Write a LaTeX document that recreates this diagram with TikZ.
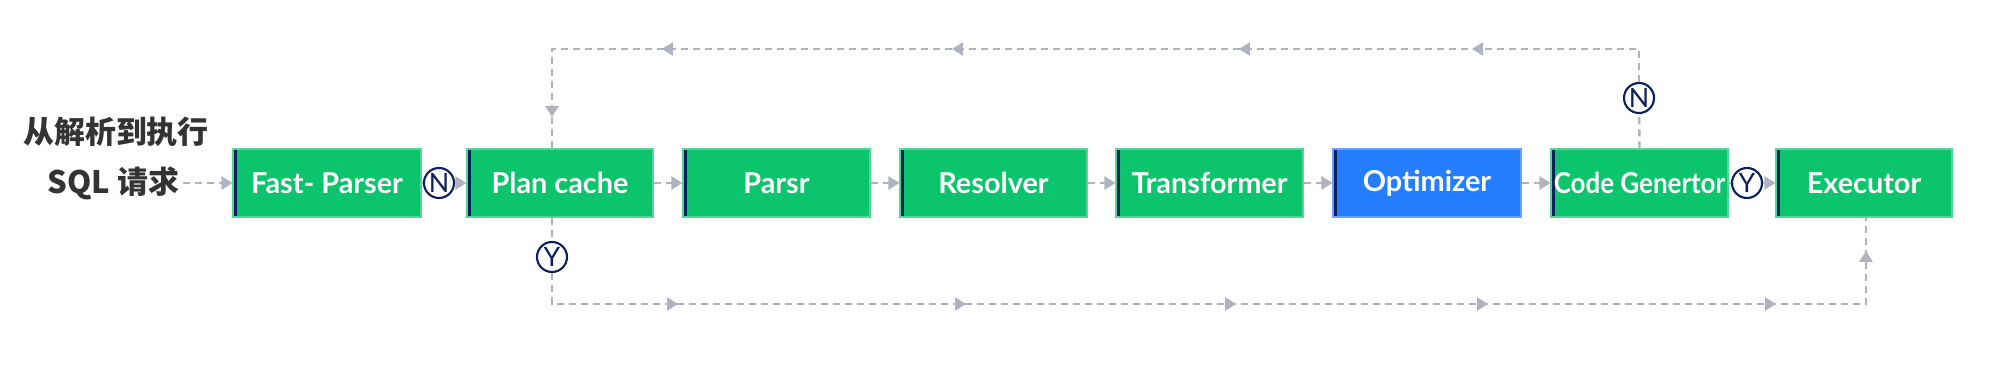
\documentclass[tikz,border=0pt]{standalone}
\usepackage{fontspec}
\setmainfont{Lato}
\newfontfamily\cjk{Noto Sans CJK SC}
\usetikzlibrary{arrows.meta, decorations.markings, calc}
\definecolor{SqGreen}{RGB}{11,196,108}
\definecolor{SqBlue}{RGB}{36,126,255}
\definecolor{SqNavy}{RGB}{10,31,92}
\definecolor{SqGray}{RGB}{176,179,190}
\definecolor{SqText}{RGB}{51,51,51}

\begin{document}
\begin{tikzpicture}[
    stage/.style={rectangle, fill=#1, draw=#1!70!white, line width=0.3pt,
                  minimum height=0.68cm, inner sep=0pt, text=white,
                  font=\fontsize{8.2}{9.6}\selectfont\bfseries,
                  path picture={\fill[SqNavy] (path picture bounding box.north west)
                    rectangle ([xshift=0.04cm]path picture bounding box.south west);}},
    flag/.style={circle, draw=SqNavy, line width=0.6pt, fill=white,
                 minimum size=0.3cm, inner sep=0pt, text=SqNavy,
                 font=\fontsize{7.6}{8}\selectfont},
    link/.style={SqGray, line width=0.7pt, dash pattern=on 0.07cm off 0.05cm},
    tip/.style={-{Triangle[length=0.11cm, width=0.13cm]}}
  ]
  \useasboundingbox (0,0) rectangle (20,3.7);

  % Request label
  \node[font=\cjk\fontsize{8.8}{10}\selectfont\bfseries, SqText]
        (title) at (1.16, 2.38) {从解析到执行};
  \node[font=\cjk\fontsize{8.8}{10}\selectfont\bfseries, SqText, inner sep=1pt]
        (sql) at (1.135, 1.87) {SQL 请求};

  % Stages
  \foreach \name/\x/\w/\col/\txt in {fast/3.27/1.88/SqGreen/{Fast- Parser},
      plan/5.60/1.86/SqGreen/{Plan cache}, parsr/7.765/1.87/SqGreen/{Parsr},
      resolver/9.935/1.87/SqGreen/{Resolver}, trans/12.095/1.87/SqGreen/{Transformer},
      opt/14.27/1.88/SqBlue/{Optimizer},
      codegen/16.395/1.77/SqGreen/{\scalebox{0.9}[1]{Code Genertor}},
      exec/18.64/1.76/SqGreen/{Executor}} {
    \node[stage=\col, minimum width=\w cm] (\name) at (\x, 1.87) {\txt};
  }

  % Decisions
  \node[flag] (n1) at (4.39, 1.87) {N};
  \node[flag] (y2) at (17.47, 1.87) {Y};
  \node[flag] (y1) at (5.52, 1.13) {Y};
  \node[flag] (n2) at (16.39, 2.72) {N};
  \coordinate (top) at (0, 3.21);
  \coordinate (bot) at (0, 0.66);

  % Main line
  \draw[link, tip] (sql) -- (fast);
  \draw[link] (fast) -- (n1);
  \draw[link, tip] (n1) -- (plan);
  \foreach \a/\b in {plan/parsr, parsr/resolver, resolver/trans, trans/opt, opt/codegen}
    \draw[link, tip] (\a) -- (\b);
  \draw[link] (codegen) -- (y2);
  \draw[link, tip] (y2) -- (exec);

  % Miss: back to plan cache
  \draw[link] (codegen.north) -- (n2);
  \draw[link, postaction={decorate}, decoration={markings,
          mark=at position 2.00cm with {\arrow{Triangle[length=0.11cm, width=0.13cm]}},
          mark=at position 4.33cm with {\arrow{Triangle[length=0.11cm, width=0.13cm]}},
          mark=at position 7.20cm with {\arrow{Triangle[length=0.11cm, width=0.13cm]}},
          mark=at position 10.10cm with {\arrow{Triangle[length=0.11cm, width=0.13cm]}},
          mark=at position 11.88cm with {\arrow{Triangle[length=0.11cm, width=0.13cm]}}}]
        (n2) -- (n2 |- top) -| ([xshift=-0.08cm]plan.north);

  % Hit: straight to executor
  \draw[link] ([xshift=-0.08cm]plan.south) -- (y1);
  \draw[link, postaction={decorate}, decoration={markings,
          mark=at position 1.57cm with {\arrow{Triangle[length=0.11cm, width=0.13cm]}},
          mark=at position 4.45cm with {\arrow{Triangle[length=0.11cm, width=0.13cm]}},
          mark=at position 7.15cm with {\arrow{Triangle[length=0.11cm, width=0.13cm]}},
          mark=at position 9.67cm with {\arrow{Triangle[length=0.11cm, width=0.13cm]}},
          mark=at position 12.55cm with {\arrow{Triangle[length=0.11cm, width=0.13cm]}},
          mark=at position 13.98cm with {\arrow{Triangle[length=0.11cm, width=0.13cm]}}}]
        (y1) -- (y1 |- bot) -| ([xshift=0.02cm]exec.south);
\end{tikzpicture}
\end{document}
